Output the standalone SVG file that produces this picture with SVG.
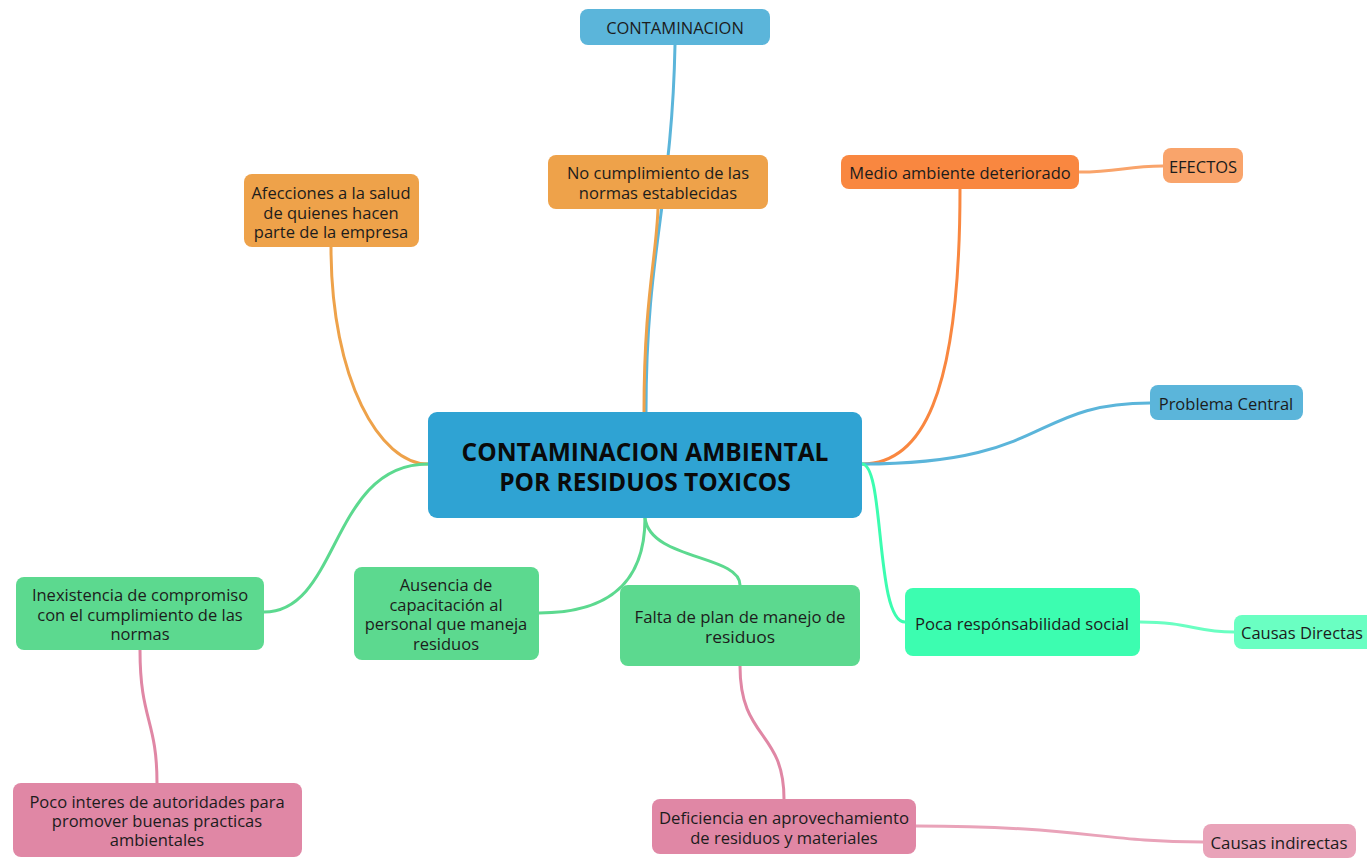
<svg xmlns="http://www.w3.org/2000/svg" width="1367" height="858" viewBox="0 0 1367 858">
<style>
text{font-family:"Open Sans","Noto Sans","Liberation Sans",sans-serif;font-size:16.5px;fill:#1c1c1c;text-anchor:middle;dominant-baseline:central}
.big{font-size:24.5px;font-weight:700;fill:#0a0a0a}
.c{fill:none;stroke-linecap:round}
</style>
<rect width="1367" height="858" fill="#ffffff"/>
<g id="connectors">
<path class="c" d="M646,412 C646,250 672,200 675,45" stroke="#5bb5da" stroke-width="3"/>
<path class="c" d="M644,412 C644,300 656,260 658,209" stroke="#eea24a" stroke-width="3"/>
<path class="c" d="M428,464 C380,464 331,380 331,247" stroke="#eea24a" stroke-width="3"/>
<path class="c" d="M862,464 C920,464 960,400 960,189" stroke="#f98740" stroke-width="3"/>
<path class="c" d="M1079,172 C1120,172 1125,166 1163,166" stroke="#f9a46b" stroke-width="3"/>
<path class="c" d="M862,464 C1050,464 1030,403 1150,403" stroke="#5bb5da" stroke-width="3"/>
<path class="c" d="M862,464 C885,464 875,622 905,622" stroke="#3cfdb0" stroke-width="3"/>
<path class="c" d="M1140,622 C1190,622 1195,632 1234,632" stroke="#6affc2" stroke-width="3"/>
<path class="c" d="M428,464 C330,464 340,612 264,612" stroke="#5cd98f" stroke-width="3"/>
<path class="c" d="M645,518 C645,590 600,613 539,613" stroke="#5cd98f" stroke-width="3"/>
<path class="c" d="M645,518 C650,560 740,555 740,585" stroke="#5cd98f" stroke-width="3"/>
<path class="c" d="M140,650 C140,720 157,720 157,783" stroke="#e087a5" stroke-width="3"/>
<path class="c" d="M740,666 C740,740 784,730 784,799" stroke="#e087a5" stroke-width="3"/>
<path class="c" d="M916,826 C1080,826 1100,842 1203,842" stroke="#e9a3b9" stroke-width="3"/>
</g>
<g id="contaminacion"><rect x="580" y="9" width="190" height="36" rx="8" fill="#5bb5da"/><text x="675" y="27">CONTAMINACION</text></g>
<g id="no-cumplimiento"><rect x="548" y="155" width="220" height="54" rx="8" fill="#eea24a"/><text x="658" y="172">No cumplimiento de las</text><text x="658" y="192">normas establecidas</text></g>
<g id="afecciones"><rect x="244" y="174" width="175" height="73" rx="8" fill="#eea24a"/><text x="331" y="192">Afecciones a la salud</text><text x="331" y="212">de quienes hacen</text><text x="331" y="231">parte de la empresa</text></g>
<g id="medio-ambiente"><rect x="841" y="155" width="238" height="34" rx="8" fill="#f98740"/><text x="960" y="172">Medio ambiente deteriorado</text></g>
<g id="efectos"><rect x="1163" y="148" width="80" height="35" rx="8" fill="#f9a46b"/><text x="1203" y="166">EFECTOS</text></g>
<g id="central"><rect x="428" y="412" width="434" height="106" rx="9" fill="#2fa3d3"/><text class="big" x="645" y="451">CONTAMINACION AMBIENTAL</text><text class="big" x="645" y="481">POR RESIDUOS TOXICOS</text></g>
<g id="problema-central"><rect x="1150" y="385" width="153" height="35" rx="8" fill="#5bb5da"/><text x="1226" y="403">Problema Central</text></g>
<g id="inexistencia"><rect x="16" y="577" width="248" height="73" rx="8" fill="#5cd98f"/><text x="140" y="594">Inexistencia de compromiso</text><text x="140" y="614">con el cumplimiento de las</text><text x="140" y="633">normas</text></g>
<g id="ausencia"><rect x="354" y="567" width="185" height="93" rx="8" fill="#5cd98f"/><text x="446" y="584">Ausencia de</text><text x="446" y="604">capacitación al</text><text x="446" y="623">personal que maneja</text><text x="446" y="643">residuos</text></g>
<g id="falta-plan"><rect x="620" y="585" width="240" height="81" rx="8" fill="#5cd98f"/><text x="740" y="616" textLength="211" lengthAdjust="spacingAndGlyphs">Falta de plan de manejo de</text><text x="740" y="636" textLength="70" lengthAdjust="spacingAndGlyphs">residuos</text></g>
<g id="poca-responsabilidad"><rect x="905" y="588" width="235" height="68" rx="8" fill="#3cfdb0"/><text x="1022" y="623" textLength="214" lengthAdjust="spacingAndGlyphs">Poca resp&#243;nsabilidad social</text></g>
<g id="causas-directas"><rect x="1234" y="615" width="140" height="34" rx="8" fill="#6affc2"/><text x="1302" y="632" textLength="122" lengthAdjust="spacingAndGlyphs">Causas Directas</text></g>
<g id="poco-interes"><rect x="13" y="783" width="289" height="74" rx="8" fill="#e087a5"/><text x="157" y="801">Poco interes de autoridades para</text><text x="157" y="820">promover buenas practicas</text><text x="157" y="839">ambientales</text></g>
<g id="deficiencia"><rect x="652" y="799" width="264" height="55" rx="8" fill="#e087a5"/><text x="784" y="817" textLength="250" lengthAdjust="spacingAndGlyphs">Deficiencia en aprovechamiento</text><text x="784" y="837">de residuos y materiales</text></g>
<g id="causas-indirectas"><rect x="1203" y="824" width="153" height="34" rx="8" fill="#e9a3b9"/><text x="1279" y="842" textLength="137" lengthAdjust="spacingAndGlyphs">Causas indirectas</text></g>
</svg>
